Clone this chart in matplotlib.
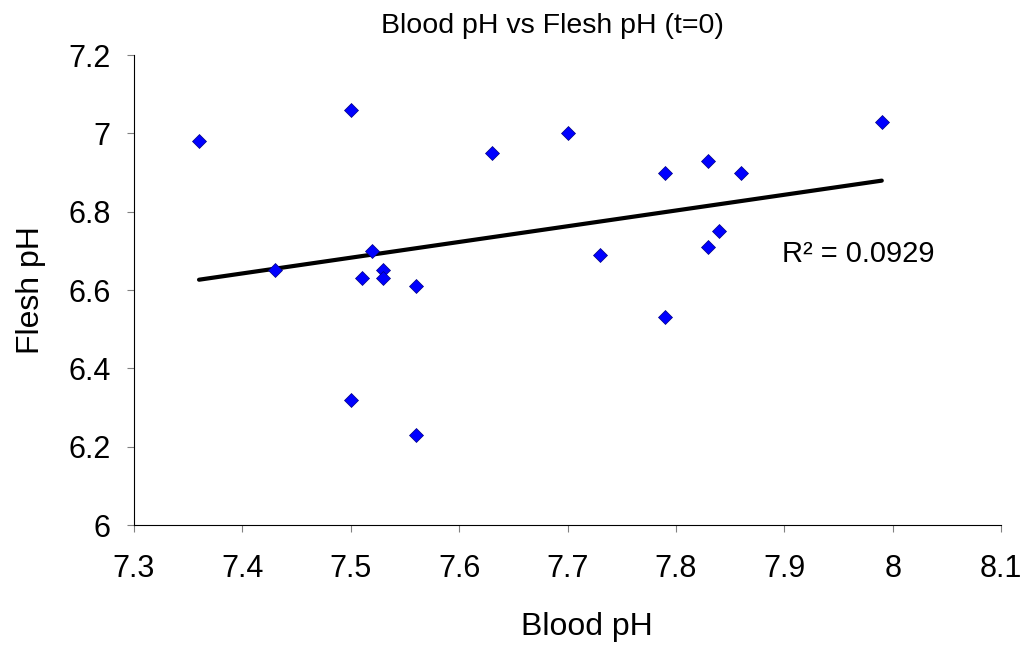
import numpy as np
from matplotlib import pyplot as plt

plt.rcParams['font.family'] = ['Liberation Sans', 'DejaVu Sans']

blood_ph = [7.36, 7.43, 7.50, 7.50, 7.51, 7.52, 7.53, 7.53, 7.56, 7.56,
            7.63, 7.70, 7.73, 7.79, 7.79, 7.83, 7.83, 7.84, 7.86, 7.99]
flesh_ph = [6.98, 6.65, 7.06, 6.32, 6.63, 6.70, 6.65, 6.63, 6.61, 6.23,
            6.95, 7.00, 6.69, 6.90, 6.53, 6.93, 6.71, 6.75, 6.90, 7.03]
x_ticks = [7.3, 7.4, 7.5, 7.6, 7.7, 7.8, 7.9, 8.0, 8.1]
y_ticks = [6.0, 6.2, 6.4, 6.6, 6.8, 7.0, 7.2]
r2_label = 'R² = 0.0929'

fig = plt.figure(figsize=(10.24, 6.46), dpi=100)
ax = fig.add_axes([134 / 1024, 121 / 646, 867 / 1024, 470 / 646])

x = np.array(blood_ph)
y = np.array(flesh_ph)
slope, icpt = np.polyfit(x, y, 1)
xx = np.array([x.min(), x.max()])
ax.plot(xx, slope * xx + icpt, color='black', lw=3, solid_capstyle='round', zorder=2)
ax.plot(x, y, 'D', ms=7.5, mfc='#0000ff', mec='#000080', mew=0.5, zorder=3)

ax.text(7.898, 6.693, r2_label, fontsize=21, va='center', ha='left')

ax.set_xlim(7.3, 8.1)
ax.set_ylim(6.0, 7.2)
ax.set_xticks(x_ticks)
ax.set_xticklabels([f'{v:g}' for v in x_ticks])
ax.set_yticks(y_ticks)
ax.set_yticklabels([f'{v:g}' for v in y_ticks])
ax.tick_params(direction='out', length=5, color='#808080', labelsize=22)
ax.tick_params(axis='x', pad=16)
ax.tick_params(axis='y', pad=12)

for s in ['top', 'right']:
    ax.spines[s].set_visible(False)

# title and x label sit a bit left of the axes centre in the original
ax.set_title('Blood pH vs Flesh pH (t=0)', fontsize=20.5, pad=16, x=(552 - 134) / 867)
ax.set_xlabel('Blood pH', fontsize=23, labelpad=20)
ax.xaxis.label.set_x((587 - 134) / 867)
ax.set_ylabel('Flesh pH', fontsize=23, labelpad=16)

plt.savefig('out.png')
